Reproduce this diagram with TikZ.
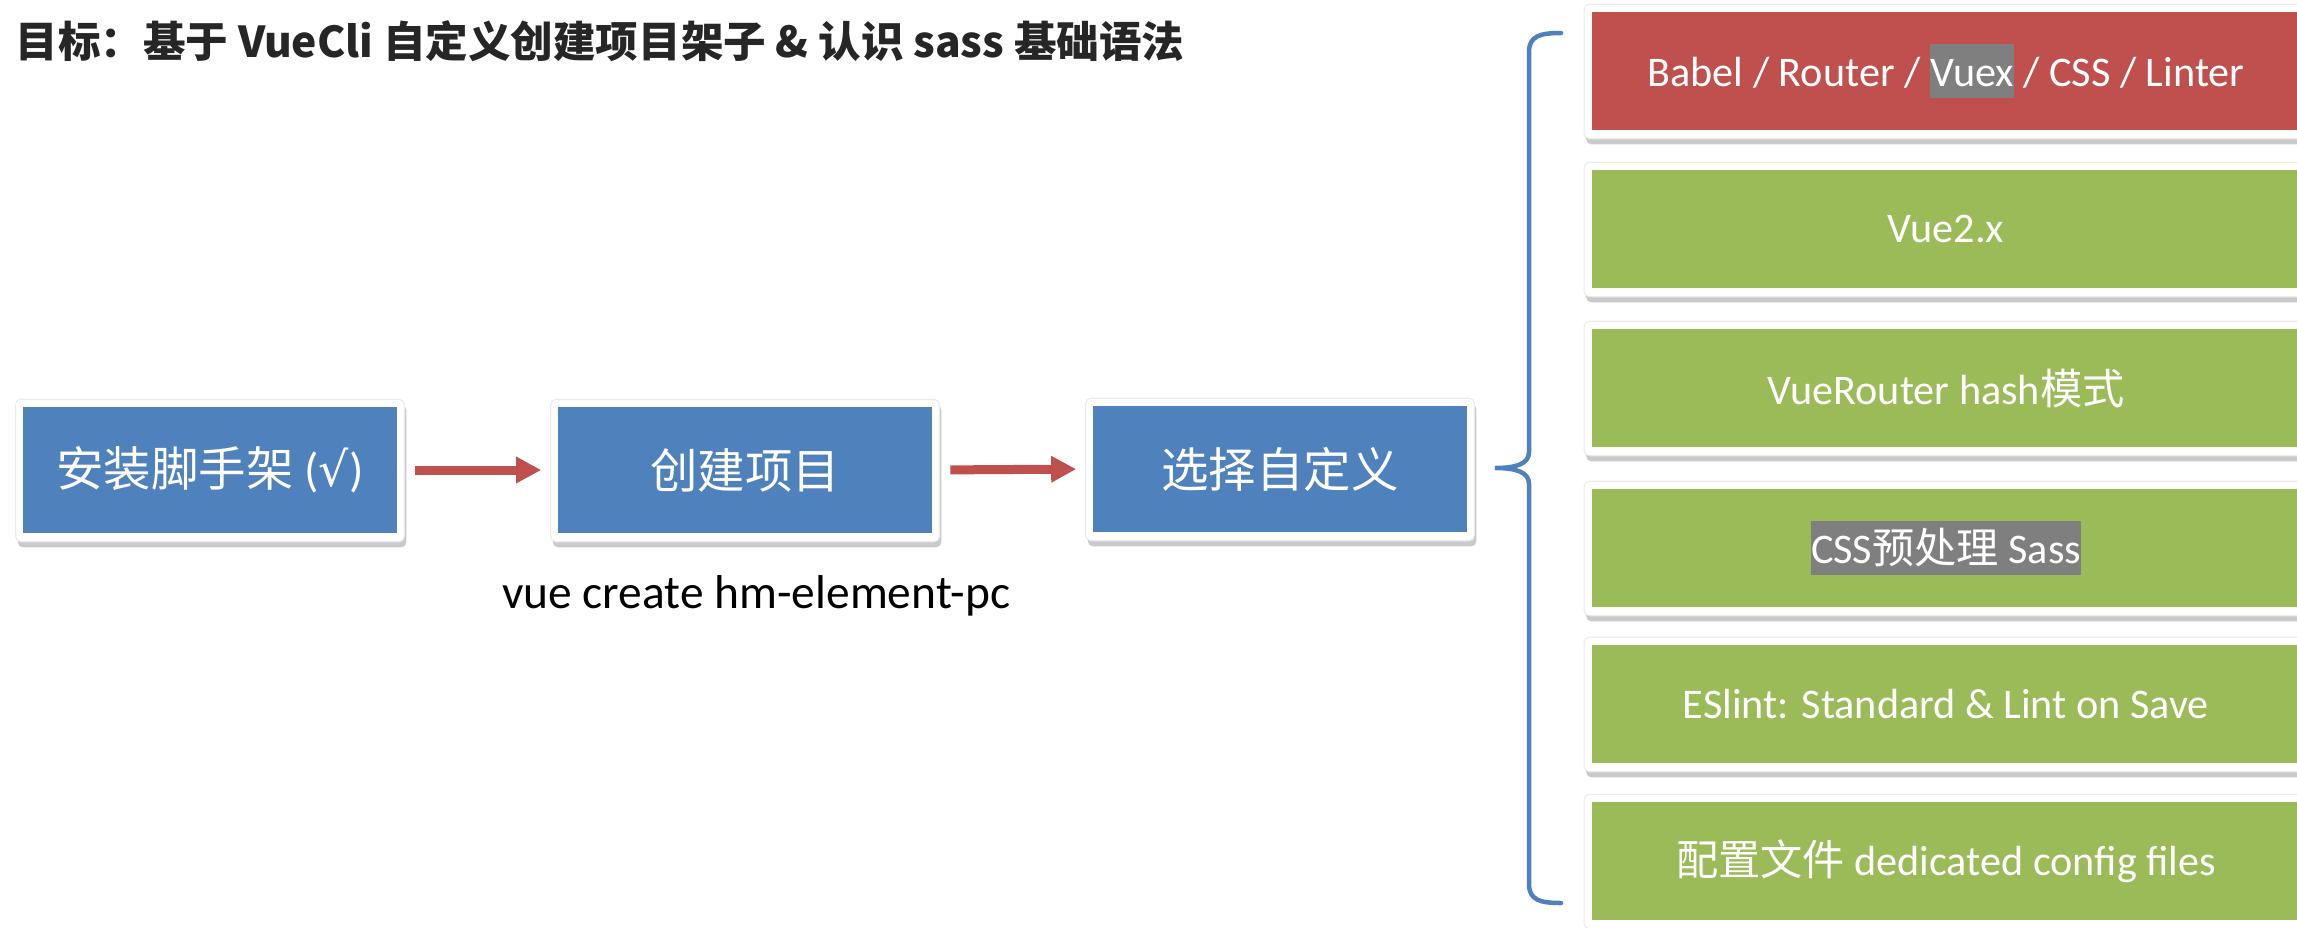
\documentclass[tikz,border=0pt]{standalone}
\usepackage{fontspec}
\setmainfont{Carlito}
\newfontfamily\cjk{Noto Sans CJK SC}
\newfontfamily\symf{DejaVu Sans}
\usetikzlibrary{arrows.meta,shadows,backgrounds}
\definecolor{boxblue}{HTML}{4F81BD}
\definecolor{boxred}{HTML}{C0504D}
\definecolor{boxgreen}{HTML}{9BBB59}
\definecolor{hlgray}{HTML}{7F7F7F}
\definecolor{titlec}{HTML}{262626}
\newcommand{\hlt}[1]{{\setlength{\fboxsep}{0pt}\colorbox{hlgray}{\vrule height 1.02em depth 0.27em width 0pt #1}}}
\begin{document}
\begin{tikzpicture}[x=0.01cm, y=-0.01cm,
  lbox/.style={fill=boxblue, text=white, minimum width=3.73cm, minimum height=1.26cm, inner sep=0pt, font=\fontsize{13.5}{16}\selectfont},
  rbox/.style={fill=#1, text=white, minimum width=7.08cm, minimum height=1.18cm, inner sep=0pt, font=\fontsize{12}{14}\selectfont},
  frame/.style={fill=white, draw=black!8, line width=0.3pt, rounded corners=1.5pt, drop shadow={shadow xshift=0.6pt, shadow yshift=-1.6pt, opacity=0.35, fill=black!60}},
  flow/.style={draw=boxred, line width=0.09cm, -{Triangle[length=0.25cm,width=0.25cm]}, shorten <=0.18cm, shorten >=0.165cm},
  brace/.style={draw=boxblue, line width=0.045cm, line cap=round},
]
\useasboundingbox (0,0) rectangle (2297,927);

\node[anchor=west, text=titlec, font=\cjk\bfseries\fontsize{12.1}{14}\selectfont, inner sep=0pt] (title) at (15,41) {目标：基于 VueCli 自定义创建项目架子 \& 认识 sass 基础语法};

\node[lbox] (s1) at (210,470) {{\cjk 安装脚手架} ({\symf √})};
\node[lbox] (s2) at (745,470) {\cjk 创建项目};
\node[lbox] (s3) at (1280,469) {\cjk 选择自定义};
\node[font=\fontsize{13.5}{16}\selectfont, inner sep=0pt] (cmd) at (756,596) {vue create hm-element-pc};

\draw[flow] (s1.east) -- (s2.west);
\draw[flow] (s2.east) -- (s3.west);

\node[rbox=boxred] (r1) at (1946,71) {Babel / Router / \hlt{Vuex} / CSS / Linter};
\node[rbox=boxgreen] (r2) at (1946,229) {Vue2.x};
\node[rbox=boxgreen] (r3) at (1946,388) {VueRouter hash{\cjk 模式}};
\node[rbox=boxgreen] (r4) at (1946,548) {\hlt{CSS{\cjk 预处理} Sass}};
\node[rbox=boxgreen] (r5) at (1946,704) {ESlint: Standard \& Lint on Save};
\node[rbox=boxgreen] (r6) at (1946,861) {{\cjk 配置文件} dedicated config files};

\begin{scope}[on background layer]
\foreach \n in {s1,s2,s3,r1,r2,r3,r4,r5,r6}
  \path[frame] ([shift={(-7,-7)}]\n.north west) rectangle ([shift={(7,8)}]\n.south east);
\end{scope}

\coordinate (btop) at (1561,33);
\coordinate (btip) at (1495,468);
\coordinate (bbot) at (1561,903);
\draw[brace] (btop) .. controls (1540,33) and (1529,36) .. (1529,52) -- (1529,452)
  .. controls (1529,464) and (1516,468) .. (btip)
  .. controls (1516,468) and (1529,472) .. (1529,484) -- (1529,884)
  .. controls (1529,900) and (1540,903) .. (bbot);
\end{tikzpicture}
\end{document}
